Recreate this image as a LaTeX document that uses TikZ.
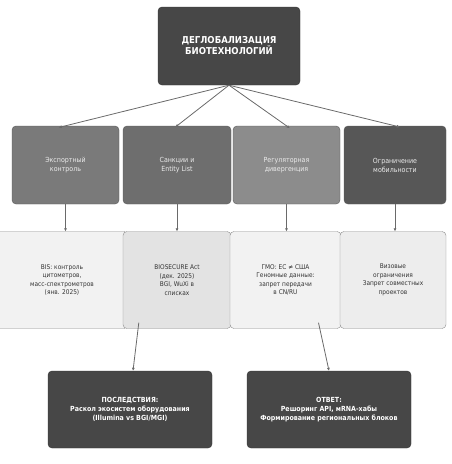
\documentclass[tikz,border=0pt]{standalone}
\usepackage{fontspec}
\setmainfont{DejaVu Sans Condensed}
\usetikzlibrary{arrows.meta}
\definecolor{dark}{HTML}{474747}
\definecolor{line}{HTML}{6A6A6A}
\tikzset{
  box/.style={rounded corners=4pt, align=center, inner sep=2pt},
  topbox/.style={box, draw=black!80, fill=dark, text=white, font=\bfseries\fontsize{9.5}{11}\selectfont, minimum width=142pt, minimum height=78pt},
  midbox/.style={box, draw=black!65, fill=#1, text=white!92!black, font=\fontsize{7}{9}\selectfont, minimum height=78pt},
  lowbox/.style={box, draw=black!45, fill=#1, text=black!80, font=\fontsize{6.5}{8.5}\selectfont, minimum height=97pt},
  resbox/.style={box, draw=black!80, fill=dark, text=white, font=\bfseries\fontsize{7}{9}\selectfont, minimum width=164pt, minimum height=77pt},
  conn/.style={draw=line, line width=0.8pt, -{Latex[length=3pt,width=3pt]}},
}
\begin{document}
\begin{tikzpicture}[x=1pt,y=-1pt]
\useasboundingbox (0,0) rectangle (452,464);
\begin{scope}
\clip (0,0) rectangle (452,464);
% top
\node[topbox] (top) at (229,46) {ДЕГЛОБАЛИЗАЦИЯ\\БИОТЕХНОЛОГИЙ};

% directions
\node[midbox=black!52, minimum width=107pt] (exp) at (65.5,165) {Экспортный\\контроль};
\node[midbox=black!57, minimum width=108pt] (sanc) at (177,165) {Санкции и\\Entity List};
\node[midbox=black!45, minimum width=107pt] (reg) at (286.5,165) {Регуляторная\\дивергенция};
\node[midbox=black!66, minimum width=102pt] (mob) at (395,165) {Ограничение\\мобильности};

% details
\node[lowbox=black!5, minimum width=132pt] (bis) at (62,280) {BIS: контроль\\цитометров,\\масс-спектрометров\\(янв. 2025)};
\node[lowbox=black!11, minimum width=108pt] (bio) at (177,280) {BIOSECURE Act\\(дек. 2025)\\BGI, WuXi в\\списках};
\node[lowbox=black!5, minimum width=111pt] (gmo) at (285.5,280) {ГМО: ЕС ≠ США\\Геномные данные:\\запрет передачи\\в CN/RU};
\node[lowbox=black!7, minimum width=106pt] (visa) at (393,280) {Визовые\\ограничения\\Запрет совместных\\проектов};

% outcomes
\node[resbox] (cons) at (130,409.5) {ПОСЛЕДСТВИЯ:\\Раскол экосистем оборудования\\(Illumina vs BGI/MGI)};
\node[resbox] (resp) at (329,409.5) {ОТВЕТ:\\Решоринг API, мRNA-хабы\\Формирование региональных блоков};

\draw[conn, shorten >=-7pt] (top.south) -- (exp.north);
\draw[conn, shorten >=-2pt] (top.south) -- (sanc.north);
\draw[conn, shorten >=-4pt] (top.south) -- (reg.north);
\draw[conn, shorten >=-5pt] (top.south) -- (mob.north);

\draw[conn] (exp.south) -- (exp.south |- bis.north);
\draw[conn] (sanc.south) -- (bio.north);
\draw[conn] (reg.south) -- (reg.south |- gmo.north);
\draw[conn] (mob.south) -- (mob.south |- visa.north);

\draw[conn] ([xshift=16pt,yshift=6pt]bio.south west) -- ([xshift=3pt]cons.north);
\draw[conn] ([xshift=33pt,yshift=6pt]gmo.south) -- (resp.north);
\end{scope}
\end{tikzpicture}
\end{document}
